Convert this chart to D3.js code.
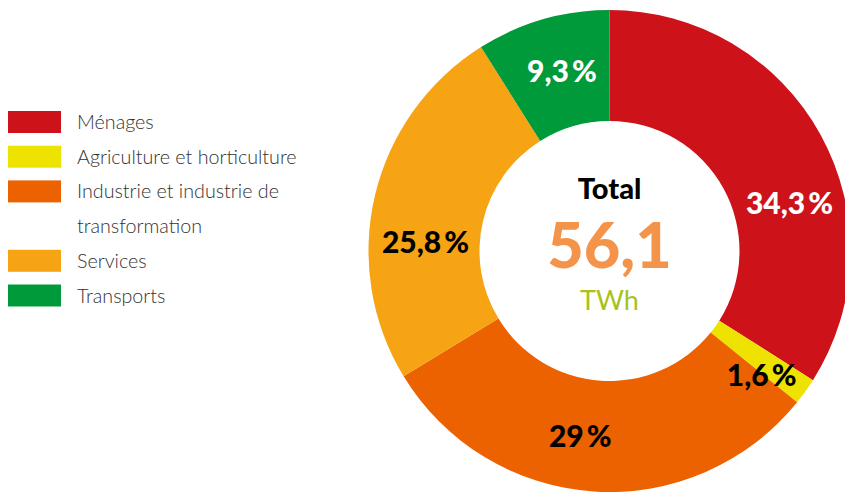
<!DOCTYPE html>
<html>
<head>
<meta charset="utf-8">
<script src="https://cdn.jsdelivr.net/npm/d3@7"></script>
<style>
  body { margin: 0; background: #fff; }
  svg { display: block; }
</style>
</head>
<body>
<div id="chart"></div>
<script>
// data
var categories = ["Ménages", "Agriculture et horticulture", "Industrie et industrie de\ntransformation", "Services", "Transports"];
// slice sizes as drawn in the picture (percent of the ring)
var shares = [34.0, 1.8, 30.5, 24.75, 8.95];
// printed labels
var pctLabels = ["34,3 %", "1,6 %", "29 %", "25,8 %", "9,3 %"];
var colors = ["#cd121a", "#eee300", "#ec6100", "#f6a314", "#009a3b"];
var labelColors = ["#fff", "#000", "#000", "#000", "#fff"];
var totalValue = "56,1";
var totalUnit = "TWh";

var width = 845, height = 494;
var cx = 609.5, cy = 251;
var outerR = 241, innerR = 130, labelR = 186;

var font = "Lato, 'Open Sans', sans-serif";

var svg = d3.select("#chart").append("svg")
    .attr("width", width)
    .attr("height", height);

var pie = d3.pie().sort(null).value(function (d) { return d; });
var arcs = pie(shares);

var arc = d3.arc().innerRadius(innerR).outerRadius(outerR);
var labelArc = d3.arc().innerRadius(labelR).outerRadius(labelR);

var g = svg.append("g")
    .attr("transform", "translate(" + cx + "," + cy + ")");

g.selectAll("path.slice")
    .data(arcs)
    .enter().append("path")
    .attr("class", "slice")
    .attr("d", arc)
    .attr("fill", function (d, i) { return colors[i]; });

// labels were hand placed in the original, nudge them off the centroid
var nudge = [[17, 42], [1, 16], [-17, 0], [-3, 34], [4, -1]];

var lbl = g.selectAll("text.pct")
    .data(arcs)
    .enter().append("text")
    .attr("class", "pct")
    .attr("transform", function (d, i) {
        var c = labelArc.centroid(d);
        return "translate(" + (c[0] + nudge[i][0]) + "," + (c[1] + nudge[i][1]) + ")";
    })
    .attr("text-anchor", "middle")
    .attr("dy", "0.36em")
    .style("font-family", font)
    .style("font-weight", 900)
    .style("font-size", "30px")
    .attr("fill", function (d, i) { return labelColors[i]; });

lbl.each(function (d, i) {
    var parts = pctLabels[i].split(" ");
    var t = d3.select(this);
    t.append("tspan").text(parts[0]);
    t.append("tspan").attr("dx", "0.1em").text(parts[1]);
});

// centre text
g.append("text")
    .attr("y", -52)
    .attr("text-anchor", "middle")
    .style("font-family", font)
    .style("font-weight", 900)
    .style("font-size", "29px")
    .attr("fill", "#000")
    .text("Total");

g.append("text")
    .attr("y", 17)
    .attr("text-anchor", "middle")
    .style("font-family", font)
    .style("font-weight", 900)
    .style("font-size", "63px")
    .attr("fill", "#f4934a")
    .text(totalValue);

g.append("text")
    .attr("y", 59)
    .attr("text-anchor", "middle")
    .style("font-family", font)
    .style("font-weight", 400)
    .style("font-size", "27px")
    .attr("fill", "#a9c21a")
    .text(totalUnit);

// legend
var lineH = 34.7;
var legend = svg.append("g").attr("transform", "translate(8,111)");
var line = 0;
categories.forEach(function (name, i) {
    var parts = name.split("\n");
    var row = legend.append("g").attr("transform", "translate(0," + (line * lineH) + ")");
    row.append("rect")
        .attr("width", 53)
        .attr("height", 22)
        .attr("fill", colors[i]);
    parts.forEach(function (p, j) {
        row.append("text")
            .attr("x", 69)
            .attr("y", 18 + j * lineH)
            .style("font-family", font)
            .style("font-weight", 300)
            .style("font-size", "19.7px")
            .attr("fill", "#333")
            .text(p);
    });
    line += parts.length;
});
</script>
</body>
</html>
